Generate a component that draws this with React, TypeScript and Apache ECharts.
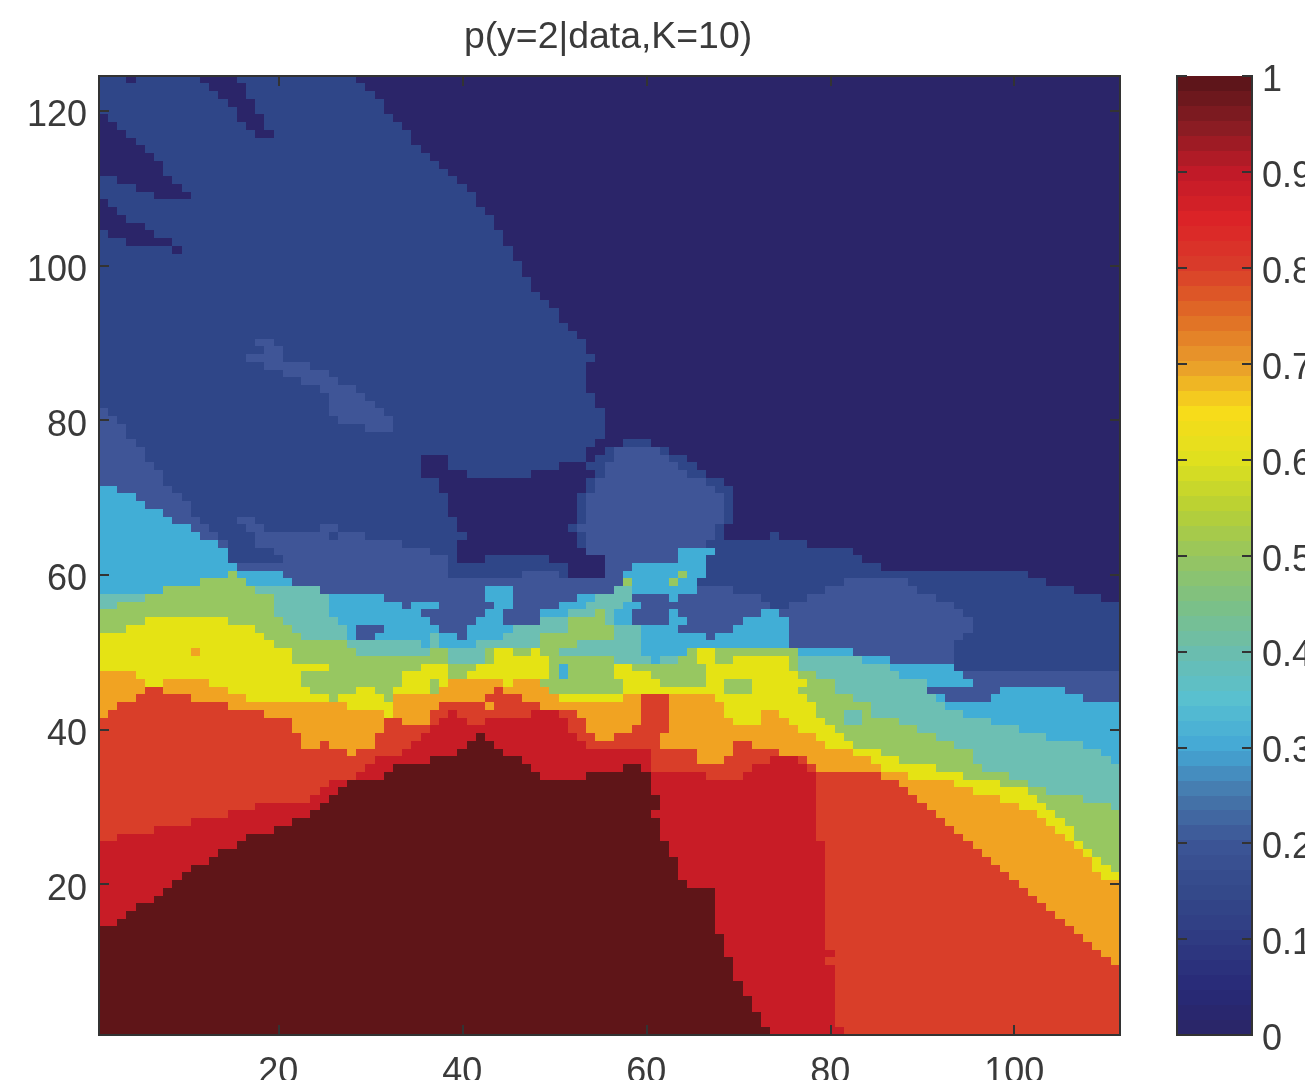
import React, { useEffect, useRef } from "react";
import * as echarts from "echarts";

const TITLE = "p(y=2|data,K=10)";
const COLS = 111;
const levelValues = [0, 0.15, 0.2, 0.3, 0.4, 0.5, 0.6, 0.7, 0.8, 0.9, 1];
const levelColors = ["#2b2569", "#2f4688", "#3f5597", "#41aed6", "#6dbfb3", "#97c761", "#e5e314", "#f1a322", "#d93e29", "#c81c26", "#5f1518"];
const colorbarStops = ["#2a2566", "#282a78", "#2f3b82", "#34498a", "#3c5596", "#4676aa", "#44a8d6", "#58c0d0", "#6bbdae", "#7cc085", "#97c55f", "#b8d034", "#dfe01e", "#f8dc1a", "#e99c2b", "#e06c25", "#d93c2a", "#dc2327", "#c01a28", "#861c22", "#571419"];
const colorbarBands = 64;
const xLabels = [20, 40, 60, 80, 100];
const yLabels = [20, 40, 60, 80, 100, 120];

// One string per image row, top row (124) first. Each token is level-lastColumn; the last token runs to the right edge.
const rowRuns = [
  "1-3 0-4 1-11 0-15 1-28 0",
  "1-12 0-16 1-29 0",
  "1-13 0-16 1-30 0",
  "1-14 0-17 1-31 0",
  "1-15 0-17 1-31 0",
  "0-1 1-15 0-18 1-32 0",
  "0-2 1-16 0-18 1-33 0",
  "0-3 1-17 0-19 1-34 0",
  "0-4 1-34 0",
  "0-5 1-35 0",
  "0-6 1-36 0",
  "0-7 1-37 0",
  "0-7 1-38 0",
  "1-2 0-8 1-39 0",
  "1-4 0-9 1-40 0",
  "1-6 0-10 1-41 0",
  "0-1 1-41 0",
  "0-2 1-42 0",
  "0-3 1-43 0",
  "0-5 1-43 0",
  "1-1 0-6 1-44 0",
  "1-3 0-8 1-44 0",
  "1-8 0-9 1-45 0",
  "1-45 0",
  "1-46 0",
  "1-46 0",
  "1-47 0",
  "1-47 0",
  "1-48 0",
  "1-49 0",
  "1-50 0",
  "1-50 0",
  "1-51 0",
  "1-52 0",
  "1-17 2-19 1-53 0",
  "1-18 2-20 1-53 0",
  "1-16 2-20 1-54 0",
  "1-18 2-23 1-53 0",
  "1-20 2-25 1-53 0",
  "1-22 2-26 1-53 0",
  "1-24 2-28 1-53 0",
  "1-25 2-29 1-54 0",
  "1-25 2-30 1-54 0",
  "2-1 1-25 2-31 1-55 0",
  "2-2 1-26 2-32 1-55 0",
  "2-3 1-29 2-32 1-55 0",
  "2-3 1-55 0",
  "2-4 1-54 0-57 1-60 0",
  "2-5 1-53 0-55 1-56 2-61 1-62 0",
  "2-5 1-35 0-38 1-53 0-54 1-56 2-62 1-64 0",
  "2-6 1-35 0-38 1-50 0-53 1-55 2-63 1-65 0",
  "2-7 1-35 0-40 1-47 0-54 1-55 2-64 1-66 0",
  "2-7 1-37 0-53 1-54 2-66 1-68 0",
  "3-2 2-8 1-37 0-53 1-54 2-67 1-69 0",
  "3-4 2-9 1-38 0-52 1-53 2-68 1-69 0",
  "3-5 2-10 1-38 0-52 1-53 2-68 1-69 0",
  "3-7 2-10 1-38 0-52 1-53 2-68 1-69 0",
  "3-8 2-11 1-15 2-17 1-39 0-52 1-53 2-68 1-69 0",
  "3-10 2-12 1-16 2-18 1-24 2-26 1-39 0-51 1-52 2-67 1-68 0",
  "3-11 2-13 1-17 2-25 1-26 2-29 1-40 0-52 1-53 2-67 1-68 0-73 1-74 0",
  "3-13 2-14 1-17 2-33 1-39 0-52 1-53 2-66 1-77 0",
  "3-14 1-19 2-36 1-39 0-53 2-63 3-67 1-82 0",
  "3-14 1-20 2-38 1-39 0-42 1-49 0-55 2-63 3-66 1-83 0",
  "3-15 2-38 1-51 0-55 2-58 3-66 1-85 0",
  "3-14 5-15 3-20 2-38 1-46 2-50 1-51 0-55 2-57 3-63 5-64 3-66 1-101 0",
  "3-11 5-16 3-21 2-57 5-58 3-62 5-63 3-65 1-81 2-88 1-103 0",
  "3-7 5-17 4-24 2-42 3-45 2-56 4-58 3-65 2-69 1-79 2-89 1-106 0",
  "4-5 5-19 4-25 3-31 2-42 3-45 2-52 3-54 4-58 2-62 3-63 2-72 1-77 2-91 1-109 0",
  "4-2 5-19 4-25 3-33 2-34 3-37 2-43 3-45 2-50 3-53 4-57 3-59 2-73 1-75 2-93 1",
  "5-19 4-25 3-35 2-42 3-44 2-48 3-51 4-54 5-55 4-56 3-58 2-62 3-63 2-72 3-74 2-94 1",
  "5-5 6-14 5-20 4-26 3-36 2-41 3-44 2-48 4-51 5-55 4-56 3-58 2-62 3-64 2-70 3-75 2-95 1",
  "5-3 6-17 5-21 4-27 3-28 2-31 3-37 2-40 3-45 4-51 5-56 4-59 3-63 2-69 3-75 2-95 1",
  "6-18 5-22 4-27 3-28 2-30 3-36 4-37 3-39 2-40 3-44 4-48 5-56 4-59 3-66 2-67 3-75 2-94 1",
  "6-19 5-27 4-35 3-36 4-37 3-41 4-48 5-52 4-59 3-75 2-93 1",
  "6-10 7-11 6-21 5-28 4-36 5-38 4-42 5-43 6-45 5-47 6-48 5-50 4-59 3-64 5-65 6-67 5-76 3-82 2-93 1",
  "6-21 5-38 4-42 5-43 6-49 5-56 4-60 3-61 4-63 5-65 6-67 5-69 6-75 5-76 4-83 3-86 2-93 1",
  "6-25 5-35 6-38 5-41 6-49 5-50 3-51 5-56 6-58 5-66 6-75 5-76 4-86 3-93 1",
  "7-4 6-22 5-33 6-38 5-40 6-49 5-50 3-51 5-56 6-60 5-66 6-76 5-78 4-87 3-94 2",
  "7-5 6-7 7-12 6-22 5-33 6-36 5-37 6-38 7-44 6-45 7-48 5-57 6-61 5-66 6-68 5-71 6-77 5-80 4-90 3-95 2",
  "7-5 8-7 7-14 6-23 5-28 6-30 5-32 6-36 5-37 7-43 8-44 7-49 5-57 6-68 5-71 6-76 5-80 4-90 2-98 3-105 2",
  "7-4 8-10 7-16 6-25 5-26 6-31 5-32 7-42 8-46 7-50 6-57 7-59 8-62 7-67 6-77 5-82 4-91 3-92 2-97 3-107 2",
  "7-2 8-14 7-27 6-32 7-37 8-42 7-43 8-48 7-59 8-62 7-68 6-78 5-84 4-92 3",
  "7-1 8-18 7-31 6-32 7-36 8-38 9-39 8-47 9-50 8-52 7-59 8-62 7-68 6-72 7-74 6-78 5-81 4-83 5-84 4-94 3",
  "8-21 7-31 8-33 7-36 8-37 9-40 8-42 9-51 8-53 7-59 8-62 7-69 6-72 7-75 6-79 5-81 4-83 5-87 4-97 3",
  "8-21 7-31 8-36 9-51 8-53 7-58 8-62 7-76 6-80 5-89 4-100 3",
  "8-22 7-30 8-35 9-41 a-42 9-52 8-54 7-56 8-61 7-78 6-81 5-91 4-103 3",
  "8-22 7-24 8-25 7-30 8-34 9-40 a-43 9-53 8-61 7-69 8-71 7-79 6-82 5-93 4-107 3",
  "8-27 7-28 8-33 9-39 a-44 9-60 8-65 7-69 8-74 7-82 6-85 5-95 4-109 3",
  "8-30 9-36 a-46 9-60 8-65 7-68 8-73 9-76 8-77 7-84 6-87 5-95 4-110 3",
  "8-29 9-32 a-47 9-57 a-59 9-60 8-71 9-77 8-78 7-85 6-91 5-96 4",
  "8-28 9-31 a-48 9-53 a-60 9-66 8-70 9-78 8-85 7-88 6-94 5-99 4",
  "8-25 9-27 a-60 9-78 8-87 7-93 6-98 5-101 4",
  "8-24 9-26 a-60 9-78 8-88 7-95 6-101 5-103 4",
  "8-23 9-25 a-61 9-78 8-89 7-98 6-102 5-107 4",
  "8-17 9-24 a-61 9-78 8-90 7-100 6-103 5-110 4",
  "8-14 9-23 a-60 9-78 8-91 7-102 6-104 5",
  "8-10 9-21 a-61 9-78 8-92 7-103 6-105 5",
  "8-6 9-19 a-61 9-78 8-93 7-104 6-106 5",
  "8-2 9-16 a-61 9-78 8-94 7-105 6-106 5",
  "9-15 a-62 9-79 8-95 7-106 6-107 5",
  "9-13 a-62 9-79 8-96 7-107 6-108 5",
  "9-12 a-63 9-79 8-97 7-108 6-109 5",
  "9-10 a-63 9-79 8-98 7-108 6-110 5",
  "9-9 a-63 9-79 8-99 7-109 6",
  "9-8 a-64 9-79 8-100 7",
  "9-7 a-67 9-79 8-101 7",
  "9-6 a-67 9-79 8-102 7",
  "9-4 a-67 9-79 8-103 7",
  "9-3 a-67 9-79 8-104 7",
  "9-2 a-67 9-79 8-105 7",
  "a-67 9-79 8-106 7",
  "a-68 9-79 8-107 7",
  "a-68 9-79 8-108 7",
  "a-68 9-80 8-109 7",
  "a-69 9-79 8-110 7",
  "a-69 9-80 8",
  "a-69 9-80 8",
  "a-70 9-80 8",
  "a-70 9-80 8",
  "a-71 9-80 8",
  "a-71 9-80 8",
  "a-72 9-80 8",
  "a-72 9-80 8",
  "a-73 9-81 8",
];

const ROWS = rowRuns.length;

function expandRows(): number[][] {
  const out: number[][] = [];
  rowRuns.forEach((row, i) => {
    const yIndex = ROWS - 1 - i;
    let col = 0;
    row.split(" ").forEach((tok) => {
      const [lvl, end] = tok.split("-");
      const last = end ? parseInt(end, 10) : COLS;
      const v = levelValues[parseInt(lvl, 16)];
      while (col < last) {
        out.push([col, yIndex, v]);
        col++;
      }
    });
  });
  return out;
}

const FONT = "'Liberation Sans', Arial, sans-serif";
const INK = "#3a3a3a";
const LINE = { lineStyle: { color: "#333", width: 1.5 } };

export default function App() {
  const ref = useRef<HTMLDivElement>(null);
  useEffect(() => {
    if (!ref.current) return;
    const chart = echarts.init(ref.current, undefined, { renderer: "svg" });
    const colCats = Array.from({ length: COLS }, (_, i) => String(i + 1));
    const rowCats = Array.from({ length: ROWS }, (_, i) => String(i + 1));
    const xIv = (_: number, v: string) => xLabels.includes(Number(v));
    const yIv = (_: number, v: string) => yLabels.includes(Number(v));
    const bands = Array.from({ length: colorbarBands }, (_, i) => [0, i, (i + 0.5) / colorbarBands]);
    const tickText = { color: INK, fontFamily: FONT, fontSize: 36 };
    const plotGrid = { left: 99, top: 76, width: 1021, height: 959, outerBoundsMode: "none" };
    const barGrid = { left: 1177, top: 76, width: 75, height: 959, outerBoundsMode: "none" };
    chart.setOption({
      animation: false,
      backgroundColor: "#fff",
      title: {
        text: TITLE,
        left: 603,
        top: 11,
        textAlign: "center",
        textStyle: { color: INK, fontFamily: FONT, fontSize: 37.4, fontWeight: "normal" },
      },
      grid: [plotGrid, barGrid],
      xAxis: [
        {
          type: "category", data: colCats, gridIndex: 0, position: "bottom", z: 10,
          axisLine: LINE,
          axisTick: { show: true, inside: true, length: 10, interval: xIv, alignWithLabel: true, ...LINE },
          axisLabel: { show: true, interval: xIv, margin: 17, hideOverlap: false, ...tickText },
          splitLine: { show: false },
        },
        {
          type: "category", data: colCats, gridIndex: 0, position: "top", z: 10,
          axisLine: LINE,
          axisTick: { show: true, inside: true, length: 10, interval: xIv, alignWithLabel: true, ...LINE },
          axisLabel: { show: false },
          splitLine: { show: false },
        },
        {
          type: "category", data: ["bar"], gridIndex: 1, position: "bottom", z: 10,
          axisLine: LINE, axisTick: { show: false }, axisLabel: { show: false },
        },
        {
          type: "category", data: ["bar"], gridIndex: 1, position: "top", z: 10,
          axisLine: LINE, axisTick: { show: false }, axisLabel: { show: false },
        },
      ],
      yAxis: [
        {
          type: "category", data: rowCats, gridIndex: 0, position: "left", z: 10,
          axisLine: LINE,
          axisTick: { show: true, inside: true, length: 10, interval: yIv, alignWithLabel: true, ...LINE },
          axisLabel: { show: true, interval: yIv, margin: 12, verticalAlign: "top", lineHeight: 6, ...tickText },
          splitLine: { show: false },
        },
        {
          type: "category", data: rowCats, gridIndex: 0, position: "right", z: 10,
          axisLine: LINE,
          axisTick: { show: true, inside: true, length: 10, interval: yIv, alignWithLabel: true, ...LINE },
          axisLabel: { show: false },
          splitLine: { show: false },
        },
        {
          type: "category", data: bands.map((b) => String(b[1])), gridIndex: 1, show: false,
        },
        {
          type: "value", gridIndex: 1, position: "right", min: 0, max: 1, interval: 0.1, z: 10,
          axisLine: { show: true, ...LINE },
          axisTick: { show: true, inside: true, length: 10, ...LINE },
          axisLabel: { show: true, margin: 10, verticalAlign: "top", lineHeight: 5, ...tickText, formatter: (v: number) => String(Math.round(v * 10) / 10) },
          splitLine: { show: false },
        },
        {
          type: "value", gridIndex: 1, position: "left", min: 0, max: 1, interval: 0.1, z: 10,
          axisLine: { show: true, ...LINE },
          axisTick: { show: true, inside: true, length: 10, ...LINE },
          axisLabel: { show: false },
          splitLine: { show: false },
        },
      ],
      visualMap: [
        {
          type: "piecewise", show: false, seriesIndex: 0,
          pieces: levelValues.map((v, i) => ({ value: v, color: levelColors[i] })),
        },
        {
          type: "continuous", show: false, seriesIndex: 1, min: 0, max: 1,
          inRange: { color: colorbarStops },
        },
      ],
      series: [
        {
          type: "heatmap", xAxisIndex: 0, yAxisIndex: 0, data: expandRows(),
          progressive: 0, emphasis: { disabled: true }, itemStyle: { borderWidth: 0 },
        },
        {
          type: "heatmap", xAxisIndex: 2, yAxisIndex: 2, data: bands,
          progressive: 0, emphasis: { disabled: true }, itemStyle: { borderWidth: 0 },
        },
      ],
      graphic: [
        // the reference photograph crops the x tick labels at this line
        { type: "rect", z: 100, shape: { x: 0, y: 1080, width: 1305, height: 9 }, style: { fill: "#fff" } },
      ],
    });
    return () => chart.dispose();
  }, []);
  return (
    <>
      <style>{"svg path, svg rect { shape-rendering: crispEdges; } svg text { shape-rendering: auto; }"}</style>
      <div
        ref={ref}
        style={{ position: "fixed", left: 0, top: 0, width: 1305, height: 1089, filter: "blur(0.7px)" }}
      />
    </>
  );
}
